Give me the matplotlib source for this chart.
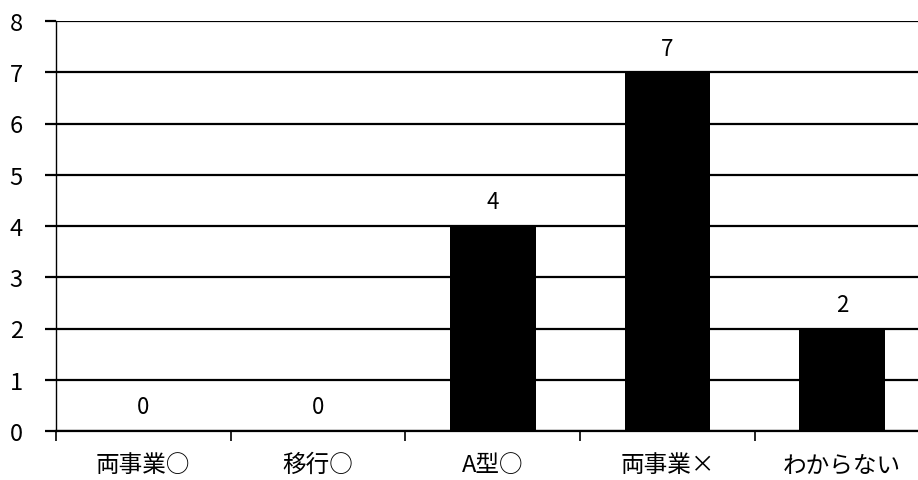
import matplotlib.pyplot as plt
import numpy as np

plt.rcParams['font.family'] = ['Noto Sans CJK JP', 'DejaVu Sans']

categories = ['両事業○', '移行○', 'A型○', '両事業×', 'わからない']
counts = [0, 0, 4, 7, 2]
yticks = [0, 1, 2, 3, 4, 5, 6, 7, 8]

fig = plt.figure(figsize=(9.18, 4.81), dpi=100)
# plot area runs past the right edge of the picture, as in the scan
ax = fig.add_axes([56/918, 49/481, 873.5/918, 410/481])

x = np.arange(len(categories))
ax.bar(x, counts, width=0.49, color='black', zorder=3)

for xi, v in zip(x, counts):
    ax.annotate(str(v), (xi, v), xytext=(0, 9), textcoords='offset points',
                ha='center', va='bottom', fontsize=16)

ax.set_xlim(-0.5, len(categories) - 0.5)
ax.set_ylim(0, 8)
ax.set_yticks(yticks)
ax.yaxis.grid(True, color='black', linewidth=1.6, zorder=0)
ax.set_axisbelow(True)

ax.set_xticks(np.arange(len(categories) + 1) - 0.5, minor=False)
ax.set_xticklabels([])
ax.set_xticks(x, minor=True)
ax.set_xticklabels(categories, minor=True, fontsize=17)
ax.tick_params(axis='x', which='minor', length=0, pad=16)
ax.tick_params(axis='x', which='major', length=7, width=1.2, direction='out')
ax.tick_params(axis='y', length=8, width=1.6, direction='out', labelsize=17, pad=16)

for s in ['top', 'right']:
    ax.spines[s].set_visible(False)
ax.spines['left'].set_linewidth(1.0)
ax.spines['bottom'].set_linewidth(1.6)

fig.savefig('out.png', dpi=100)
